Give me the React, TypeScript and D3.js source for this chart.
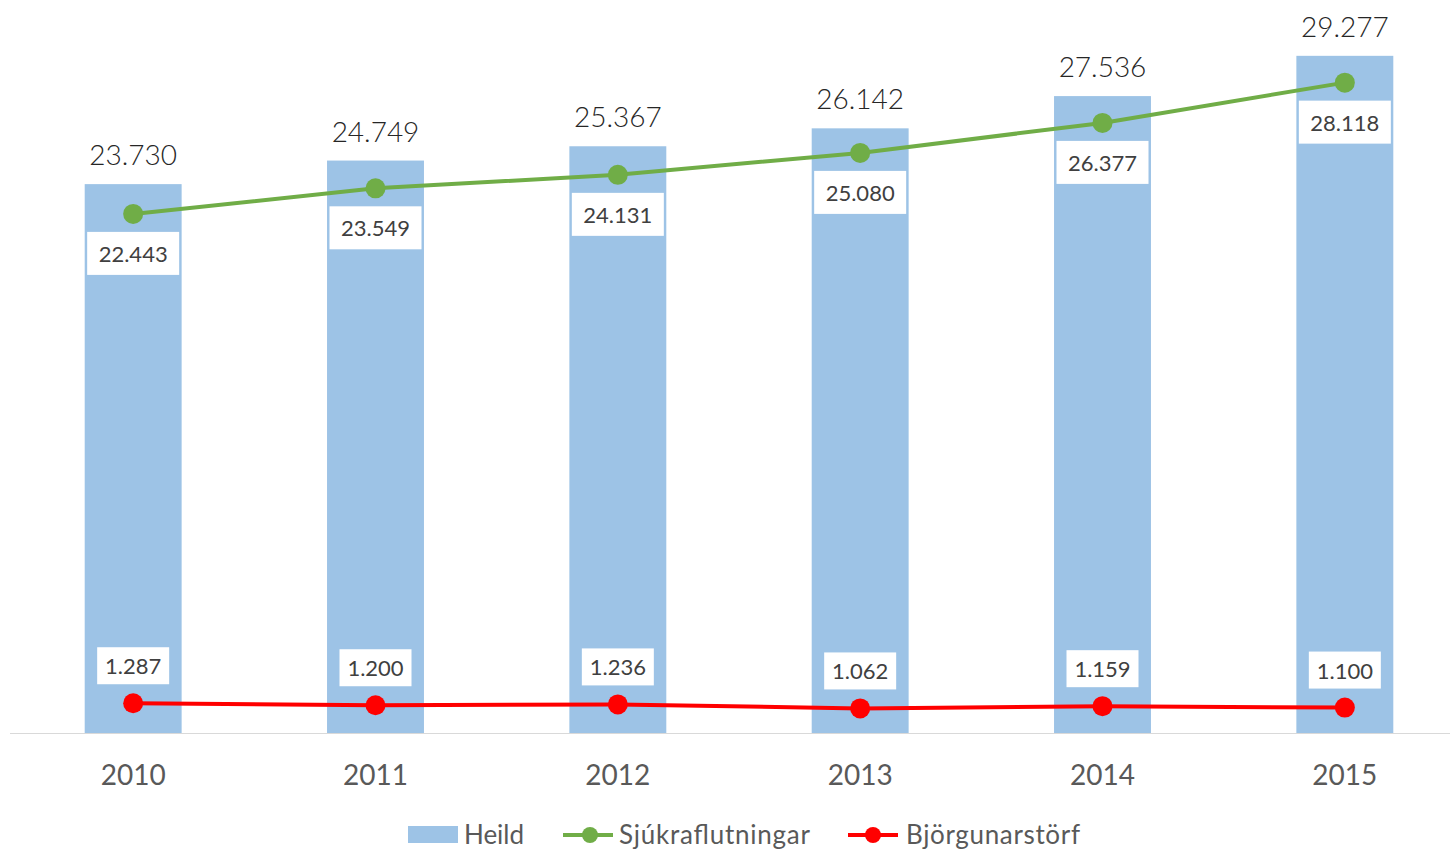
import React from "react";
import * as d3 from "d3";

const years = ["2010", "2011", "2012", "2013", "2014", "2015"];
const heild = [23730, 24749, 25367, 26142, 27536, 29277];
const sjukra = [22443, 23549, 24131, 25080, 26377, 28118];
const bjorgun = [1287, 1200, 1236, 1062, 1159, 1100];

const W = 1451;
const H = 852;
const FONT = "Lato, 'Open Sans', sans-serif";
const fmt = (v: number) => d3.format(",")(v).replace(/,/g, ".");

export default function App() {
  const x = d3.scaleBand<string>().domain(years).range([12, 1466]).paddingInner(0.6).paddingOuter(0.3);
  const y = d3.scaleLinear().domain([0, 32000]).range([733, 733 - 32000 * 0.02313]);
  const cx = (yr: string) => (x(yr) as number) + x.bandwidth() / 2;
  const line = d3
    .line<number>()
    .x((_, i) => cx(years[i]))
    .y((d) => y(d));

  return (
    <svg width={W} height={H} style={{ position: "absolute", left: 0, top: 0, background: "#fff" }} fontFamily={FONT}>
      {years.map((yr, i) => (
        <rect key={"b" + yr} x={x(yr)} y={y(heild[i])} width={x.bandwidth()} height={y(0) - y(heild[i])} fill="#9DC3E6" />
      ))}
      <line x1={10} x2={1450} y1={y(0) + 0.5} y2={y(0) + 0.5} stroke="#D9D9D9" strokeWidth={1} />
      {years.map((yr) => (
        <text key={"x" + yr} x={cx(yr)} y={785} textAnchor="middle" fontSize={28} fill="#595959">
          {yr}
        </text>
      ))}
      {years.map((yr, i) => (
        <text key={"t" + yr} x={cx(yr)} y={y(heild[i]) - 19} textAnchor="middle" fontSize={28} fontWeight={300} fill="#262626">
          {fmt(heild[i])}
        </text>
      ))}
      <path d={line(sjukra) || ""} fill="none" stroke="#70AD47" strokeWidth={4} />
      <path d={line(bjorgun) || ""} fill="none" stroke="#FF0000" strokeWidth={4} />
      {years.map((yr, i) => (
        <g key={"g" + yr}>
          <circle cx={cx(yr)} cy={y(sjukra[i])} r={10} fill="#70AD47" />
          <rect x={cx(yr) - 46} y={y(sjukra[i]) + 18} width={92} height={43} fill="#fff" />
          <text x={cx(yr)} y={y(sjukra[i]) + 48} textAnchor="middle" fontSize={22} fill="#404040">
            {fmt(sjukra[i])}
          </text>
        </g>
      ))}
      {years.map((yr, i) => (
        <g key={"r" + yr}>
          <circle cx={cx(yr)} cy={y(bjorgun[i])} r={10} fill="#FF0000" />
          <rect x={cx(yr) - 36} y={y(bjorgun[i]) - 56} width={72} height={37} fill="#fff" />
          <text x={cx(yr)} y={y(bjorgun[i]) - 29} textAnchor="middle" fontSize={22} fill="#404040">
            {fmt(bjorgun[i])}
          </text>
        </g>
      ))}
      {/* legend */}
      <rect x={408} y={826} width={50} height={17} fill="#9DC3E6" />
      <text x={464} y={844} fontSize={26} fill="#595959" textLength={60}>Heild</text>
      <line x1={563} x2={613} y1={835} y2={835} stroke="#70AD47" strokeWidth={4} />
      <circle cx={590} cy={835} r={8} fill="#70AD47" />
      <text x={619} y={844} fontSize={26} fill="#595959" textLength={191}>Sjúkraflutningar</text>
      <line x1={848} x2={898} y1={835} y2={835} stroke="#FF0000" strokeWidth={4} />
      <circle cx={873} cy={835} r={8} fill="#FF0000" />
      <text x={906} y={844} fontSize={26} fill="#595959" textLength={174}>Björgunarstörf</text>
    </svg>
  );
}
